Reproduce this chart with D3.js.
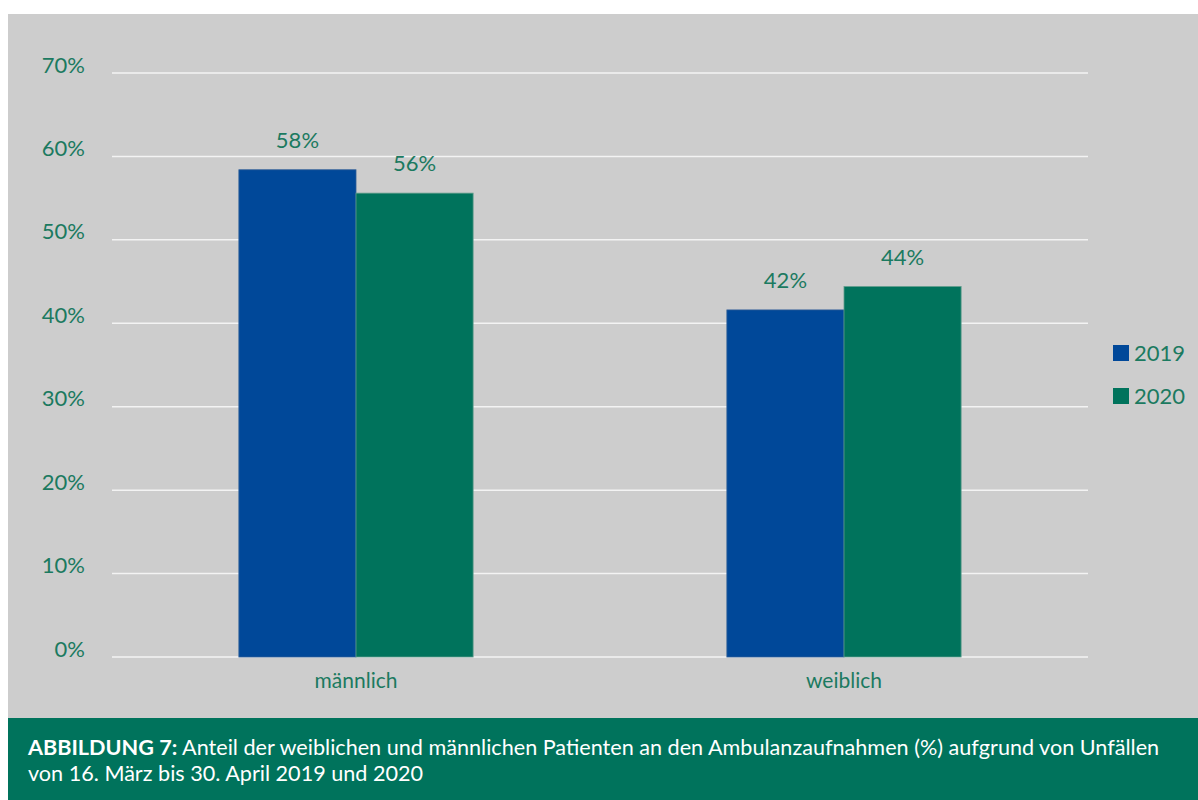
<!DOCTYPE html>
<html><head><meta charset="utf-8">
<script src="https://cdn.jsdelivr.net/npm/d3@7"></script>
<style>
html,body{margin:0;padding:0;background:#fff;}
svg{display:block;font-family:Lato,"Open Sans",sans-serif;}
</style></head>
<body>
<svg id="chart" width="1198" height="800"></svg>
<script>
const categories = ["männlich", "weiblich"];
const seriesNames = ["2019", "2020"];
const values2019 = [58.4, 41.6];
const values2020 = [55.6, 44.4];
const yTicks = [0, 10, 20, 30, 40, 50, 60, 70];
const captionBold = "ABBILDUNG 7:";
const captionLine1 = " Anteil der weiblichen und männlichen Patienten an den Ambulanzaufnahmen (%) aufgrund von Unfällen";
const captionLine2 = "von 16. März bis 30. April 2019 und 2020";

const colors = {"2019": "#004899", "2020": "#00735c"};
const textGreen = "#1b7a60";

const svg = d3.select("#chart");
svg.append("rect").attr("x", 8).attr("y", 14).attr("width", 1190).attr("height", 704).attr("fill", "#cdcdcd");
svg.append("rect").attr("x", 8).attr("y", 718).attr("width", 1190).attr("height", 82).attr("fill", "#00735c");

const plot = {left: 112, right: 1088, top: 73, bottom: 657};
const y = d3.scaleLinear().domain([0, 70]).range([plot.bottom, plot.top]);
const x0 = d3.scaleBand().domain(categories).range([plot.left, plot.right]).paddingInner(0.52).paddingOuter(0.26);
const x1 = d3.scaleBand().domain(seriesNames).range([0, x0.bandwidth()]).padding(0);

// gridlines
const grid = svg.append("g");
grid.selectAll("line").data(yTicks).join("line")
  .attr("x1", plot.left).attr("x2", plot.right)
  .attr("y1", d => y(d)).attr("y2", d => y(d))
  .attr("stroke", "#f3f3f3").attr("stroke-width", 1.5);

// y axis labels
const yAxis = d3.axisLeft(y).tickValues(yTicks).tickFormat(d => d + "%").tickSize(0).tickPadding(0);
const ya = svg.append("g").attr("transform", "translate(85,0)").call(yAxis);
ya.select(".domain").remove();
ya.selectAll("text").attr("fill", textGreen).attr("font-size", 22).attr("font-family", "Lato, sans-serif")
  .attr("dy", -1).attr("text-anchor", "end");

// x axis labels
const xAxis = d3.axisBottom(x0).tickSize(0).tickPadding(0);
const xa = svg.append("g").attr("transform", `translate(0,${plot.bottom})`).call(xAxis);
xa.select(".domain").remove();
xa.selectAll("text").attr("fill", textGreen).attr("font-size", 21).attr("font-family", "Lato, sans-serif")
  .attr("y", 31).attr("dy", 0);

// bars
const data = [];
categories.forEach((c, i) => {
  data.push({cat: c, s: "2019", v: values2019[i]});
  data.push({cat: c, s: "2020", v: values2020[i]});
});
const bars = svg.append("g");
bars.selectAll("rect").data(data).join("rect")
  .attr("x", d => x0(d.cat) + x1(d.s))
  .attr("y", d => y(d.v))
  .attr("width", x1.bandwidth())
  .attr("height", d => y(0) - y(d.v))
  .attr("fill", d => colors[d.s])
  .attr("stroke", d => d.s === "2020" ? "#5f9c8c" : "#2f5d96")
  .attr("stroke-width", 0.8);

bars.selectAll("text").data(data).join("text")
  .attr("x", d => x0(d.cat) + x1(d.s) + x1.bandwidth() / 2)
  .attr("y", d => y(d.v) - 22)
  .attr("text-anchor", "middle")
  .attr("fill", textGreen).attr("font-size", 22)
  .text(d => Math.round(d.v) + "%");

// legend
const legend = svg.append("g");
seriesNames.forEach((s, i) => {
  const g = legend.append("g").attr("transform", `translate(1113,${345 + i * 43})`);
  g.append("rect").attr("width", 16).attr("height", 16).attr("fill", colors[s]);
  g.append("text").attr("x", 21).attr("y", 16).attr("fill", textGreen).attr("font-size", 22).text(s);
});

// caption
const cap = svg.append("g").attr("fill", "#ffffff").attr("font-size", 19);
const t1 = cap.append("text").attr("x", 28).attr("y", 755);
t1.append("tspan").attr("font-weight", "bold").text(captionBold);
t1.append("tspan").text(captionLine1);
const t2 = cap.append("text").attr("x", 28).attr("y", 781).text(captionLine2);
// fit caption width to the band text width
const w = t1.node().getComputedTextLength();
const fs = 19 * 1132 / w;
cap.attr("font-size", fs);
</script>
</body></html>
